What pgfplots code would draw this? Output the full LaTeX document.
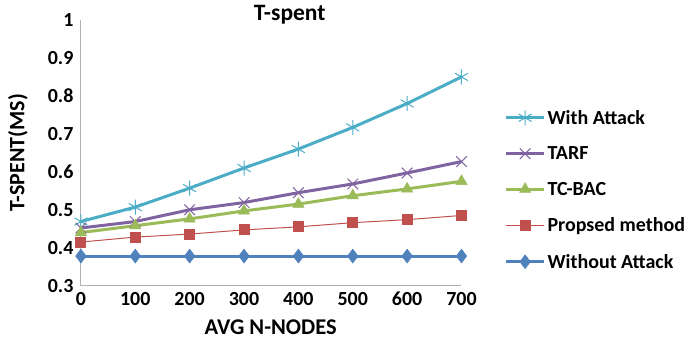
\documentclass[border=0pt]{standalone}
\usepackage{fontspec}
\setmainfont{Carlito}
\usepackage{pgfplots}
\usetikzlibrary{calc}
\pgfplotsset{compat=1.18}
\definecolor{cAtt}{HTML}{4BACC6}
\definecolor{cTarf}{HTML}{8064A2}
\definecolor{cTc}{HTML}{9BBB59}
\definecolor{cProp}{HTML}{C0504D}
\definecolor{cWo}{HTML}{4F81BD}
\begin{document}
\begin{tikzpicture}[x=1pt,y=1pt]
\begin{axis}[
  width=381pt, height=266pt, scale only axis,
  xmin=0, xmax=700, ymin=0.3, ymax=1,
  xtick={0,100,...,700}, ytick={0.3,0.4,...,1.0},
  enlargelimits=false, clip=false,
  axis x line=bottom, axis y line=left,
  axis line style={gray!60, -, line width=1pt},
  major tick length=0pt,
  tick label style={font=\fontsize{20}{22}\selectfont\bfseries},
  /pgf/number format/assume math mode=true,
  yticklabel style={/pgf/number format/fixed, /pgf/number format/precision=1},
  xticklabel style={yshift=-3pt},
  yticklabel style={xshift=-4pt},
  legend style={at={(1.105,0.677)}, anchor=north west, draw=none, fill=none,
    font=\fontsize{20}{22}\selectfont\bfseries, row sep=17pt,
    legend cell align=left},
  legend image code/.code={
    \draw[#1] (0pt,0pt) -- (38pt,0pt);
    \draw[#1, only marks] plot coordinates {(19pt,0pt)};
  },
]
\addplot[cAtt, line width=3pt, mark=asterisk, mark size=7.5pt, mark options={line width=1pt}] coordinates {
(0,0.469)(100,0.507)(200,0.557)(300,0.61)(400,0.66)(500,0.717)(600,0.78)(700,0.85)};
\addlegendentry{With Attack}
\addplot[cTarf, line width=3pt, mark=x, mark size=7.5pt, mark options={line width=1pt}] coordinates {
(0,0.452)(100,0.469)(200,0.50)(300,0.519)(400,0.545)(500,0.568)(600,0.597)(700,0.627)};
\addlegendentry{TARF}
\addplot[cTc, line width=3pt, mark=triangle*, mark size=6.5pt, mark options={line width=0.5pt}] coordinates {
(0,0.440)(100,0.458)(200,0.476)(300,0.497)(400,0.515)(500,0.537)(600,0.555)(700,0.575)};
\addlegendentry{TC-BAC}
\addplot[cProp, line width=1pt, mark=square*, mark size=5pt] coordinates {
(0,0.415)(100,0.428)(200,0.436)(300,0.447)(400,0.455)(500,0.466)(600,0.474)(700,0.485)};
\addlegendentry{Propsed method}
\addplot[cWo, line width=3pt, mark=diamond*, mark size=7pt, mark options={line width=0.5pt}] coordinates {
(0,0.378)(100,0.378)(200,0.378)(300,0.378)(400,0.378)(500,0.378)(600,0.378)(700,0.378)};
\addlegendentry{Without Attack}
\coordinate (O) at (rel axis cs:0,0);
\end{axis}
\useasboundingbox (O) ++(-81,-59) coordinate (BL) rectangle ++(690,345);
\node[font=\fontsize{23.5}{26}\selectfont\bfseries] at ($(BL)+(290,330)$) {T-spent};
\node[font=\fontsize{22}{24}\selectfont\bfseries, rotate=90] at ($(BL)+(18,192)$) {T-SPENT(MS)};
\node[font=\fontsize{22.5}{24}\selectfont\bfseries] at ($(BL)+(271,17)$) {AVG N-NODES};
\end{tikzpicture}
\end{document}
